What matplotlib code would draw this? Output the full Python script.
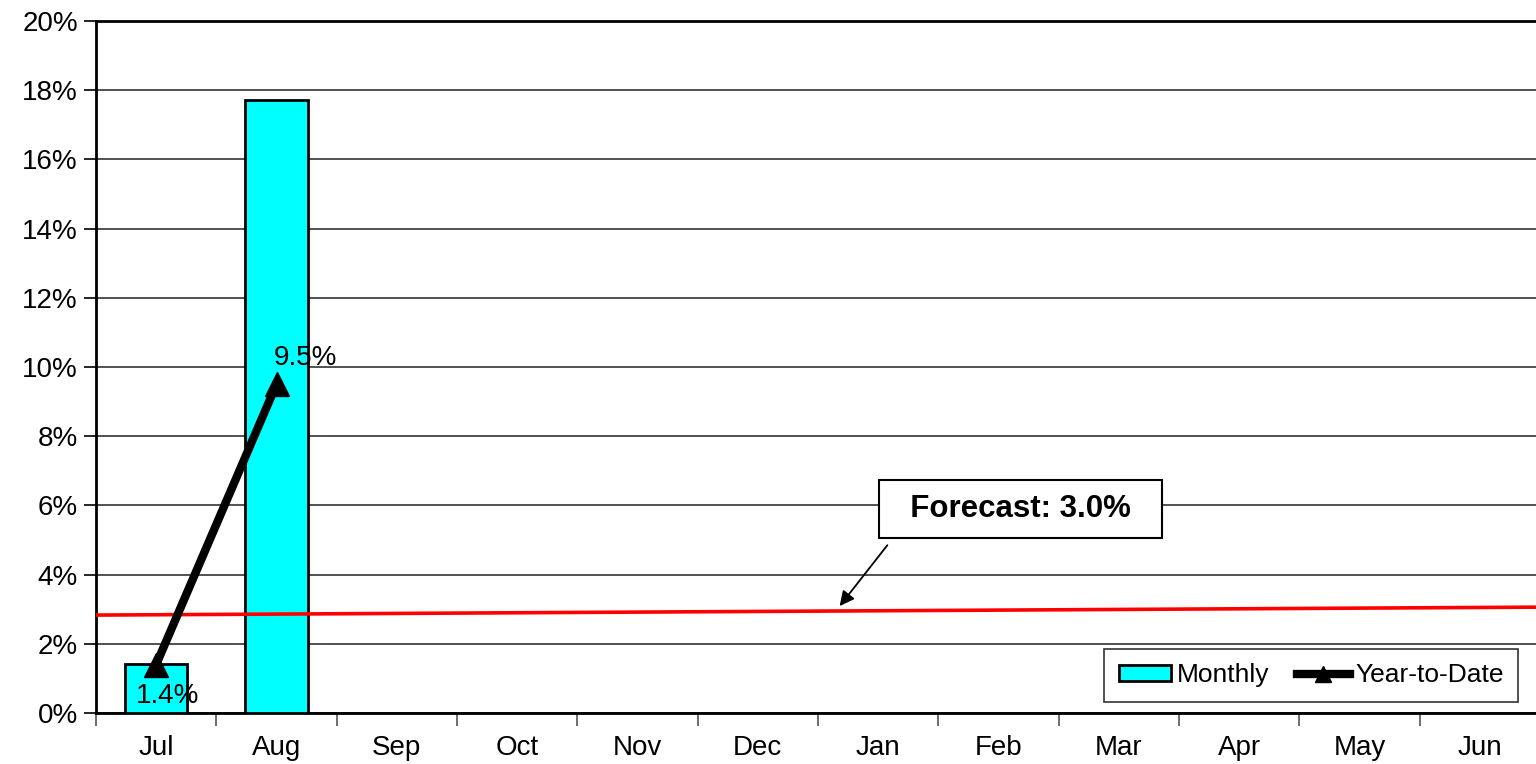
import numpy as np
import matplotlib
matplotlib.use("Agg")
import matplotlib.pyplot as plt
from matplotlib.patches import Patch
from matplotlib.lines import Line2D

months = ["Jul", "Aug", "Sep", "Oct", "Nov", "Dec", "Jan", "Feb", "Mar", "Apr", "May", "Jun"]
monthly = [1.42, 17.72]
ytd = [1.4, 9.5]
ytd_labels = ["1.4%", "9.5%"]
forecast_ends = [2.83, 3.06]
forecast_text = "Forecast: 3.0%"

plt.rcParams['font.family'] = ['Liberation Sans', 'DejaVu Sans']

fig = plt.figure(figsize=(15.36, 7.64), dpi=100)
ax = fig.add_axes([96/1536, 51/764, 1444/1536, 692/764])

x = np.arange(len(months))
ax.bar(x[:len(monthly)], monthly, width=0.52, color="#00FFFF", edgecolor="black", linewidth=2, zorder=3)
ax.plot(x[:len(ytd)], ytd, color="black", linewidth=6, marker="^", markersize=17, zorder=5)

# forecast line across the whole plot
ax.plot([-0.5, len(months) - 0.5], forecast_ends, color="red", linewidth=2.6, zorder=4)

# data labels
ax.annotate(ytd_labels[0], (x[0], ytd[0]), xytext=(11, -31), textcoords="offset pixels",
            ha="center", va="center", fontsize=20, zorder=6)
ax.annotate(ytd_labels[1], (x[1], ytd[1]), xytext=(29, 26), textcoords="offset pixels",
            ha="center", va="center", fontsize=20, zorder=6)

ax.annotate("  " + forecast_text + "  ", xy=(5.68, 3.09), xytext=(7.18, 5.9),
            ha="center", va="center", fontsize=22.5, fontweight="bold",
            bbox=dict(boxstyle="square,pad=0.45", fc="white", ec="black", lw=1.5),
            arrowprops=dict(arrowstyle="-|>", color="black", lw=1.3, mutation_scale=22,
                            relpos=(0.045, 0.0), shrinkA=6, shrinkB=0),
            zorder=7)

ax.set_xlim(-0.5, len(months) - 0.5)
ax.set_ylim(0, 20)
ax.set_yticks(np.arange(0, 21, 2))
ax.set_yticklabels([f"{v}%" for v in range(0, 21, 2)], fontsize=20)
ax.yaxis.grid(True, color="#333333", linewidth=1.2, zorder=0)
ax.set_axisbelow(True)

ax.set_xticks(x)
ax.set_xticklabels(months, fontsize=20)
ax.tick_params(axis="x", length=0, pad=16)
ax.set_xticks(np.arange(-0.5, len(months), 1), minor=True)
ax.tick_params(axis="x", which="minor", length=9, width=1.2, color="#555555")
ax.tick_params(axis="y", length=9, width=1.2, pad=4)

for s in ["left", "bottom", "top"]:
    ax.spines[s].set_linewidth(2)
    ax.spines[s].set_color("black")
ax.spines["right"].set_visible(False)

handles = [Patch(facecolor="#00FFFF", edgecolor="black", linewidth=2),
           Line2D([0], [0], color="black", linewidth=6, marker="^", markersize=12)]
leg = ax.legend(handles, ["Monthly", "Year-to-Date"], ncol=2, fontsize=19,
                loc="lower right", bbox_to_anchor=(1422/1444, 11/692), borderaxespad=0,
                frameon=True, fancybox=False, edgecolor="black",
                handlelength=2.0, handleheight=0.55, handletextpad=0.2, columnspacing=1.05,
                borderpad=0.55)
leg.get_frame().set_linewidth(1.2)
leg.set_zorder(8)

fig.savefig("out.png", dpi=100)
